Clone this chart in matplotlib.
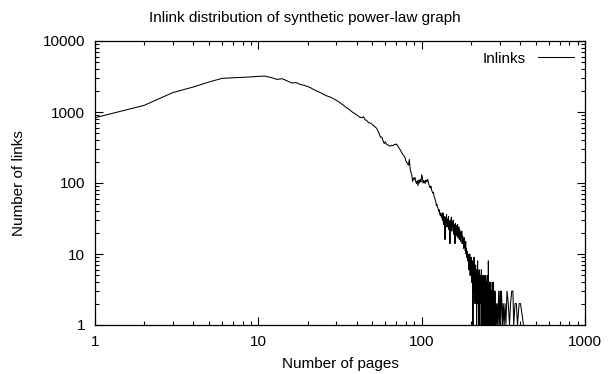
import matplotlib
matplotlib.use("Agg")
import matplotlib.pyplot as plt
from matplotlib.ticker import LogLocator, NullFormatter, FixedLocator

plt.rcParams['font.family'] = ['Liberation Sans', 'DejaVu Sans']

TITLE = "Inlink distribution of synthetic power-law graph"
X_LABEL = "Number of pages"
Y_LABEL = "Number of links"
SERIES_NAME = "Inlinks"

# head of the distribution, one value per page count 1..133
head_links = [
  830, 1240, 1880, 2250, 2650, 2980, 3030, 3080, 3120, 3180,
  3200, 3050, 2880, 2940, 2750, 2560, 2600, 2450, 2380, 2290,
  2180, 2050, 1950, 1870, 1780, 1700, 1650, 1600, 1530, 1470,
  1400, 1320, 1260, 1190, 1130, 1090, 1030, 980, 950, 910,
  870, 840, 830, 860, 780, 760, 720, 700, 690, 660,
  640, 610, 590, 540, 490, 440, 445, 395, 360, 380,
  350, 345, 335, 330, 340, 335, 338, 350, 345, 355,
  340, 320, 308, 290, 275, 260, 250, 240, 230, 205,
  195, 185, 178, 215, 160, 140, 130, 105, 118, 112,
  120, 105, 98, 108, 92, 110, 100, 112, 104, 130,
  120, 100, 108, 105, 98, 110, 104, 106, 112, 100,
  94, 88, 85, 90, 80, 76, 72, 74, 65, 62,
  58, 55, 48, 50, 46, 44, 40, 42, 37, 35,
  38, 33, 36,
]

# noisy tail 134..270
tail_links = [
  30, 38, 26, 34, 29, 16, 33, 28, 36, 24,
  31, 27, 34, 22, 29, 14, 30, 25, 33, 21,
  28, 24, 30, 19, 26, 22, 14, 27, 20, 25,
  18, 23, 26, 17, 21, 24, 16, 22, 19, 15,
  20, 17, 21, 14, 18, 16, 15, 12, 17, 13,
  14, 11, 15, 10, 12, 9, 11, 8, 10, 9,
  6, 9, 7, 10, 5, 8, 6, 9, 4, 7,
  5, 8, 1, 6, 3, 9, 4, 6, 2, 5,
  7, 3, 5, 1, 6, 4, 8, 2, 5, 1,
  4, 6, 3, 1, 5, 2, 4, 3, 6, 1,
  4, 2, 5, 3, 1, 4, 2, 5, 1, 3,
  4, 2, 1, 5, 3, 2, 4, 1, 3, 2,
  5, 1, 8, 2, 3, 1, 4, 2, 1, 3,
  2, 4, 1, 2, 3, 1, 2,
]

# sparse far tail (page counts with nonzero links)
far_pages = [272, 274, 275, 277, 279, 281, 283, 285, 288, 290,
             293, 296, 299, 302, 305, 307, 310, 313, 316, 320,
             324, 328, 333, 339, 345, 350, 356, 362, 366, 373,
             380, 386, 395, 403, 420]
far_links = [4, 1, 4, 2, 1, 3, 1, 2, 1, 2,
             1, 3, 1, 3, 1, 3, 2, 1, 2, 1,
             2, 1, 3, 2, 1, 2, 3, 3, 1, 2,
             2, 1, 2, 2, 1]

pages = list(range(1, 1 + len(head_links) + len(tail_links))) + far_pages
links = head_links + tail_links + far_links

fig = plt.figure(figsize=(6.09, 3.74), dpi=100)
ax = fig.add_axes([95 / 609, 1 - 325 / 374, 490 / 609, 284 / 374])

ax.plot(pages, links, color='black', lw=0.75, label=SERIES_NAME)

ax.set_xscale('log')
ax.set_yscale('log')
ax.set_xlim(1, 1000)
ax.set_ylim(1, 10000)

ax.xaxis.set_major_locator(FixedLocator([1, 10, 100, 1000]))
ax.yaxis.set_major_locator(FixedLocator([1, 10, 100, 1000, 10000]))
ax.set_xticklabels(['1', '10', '100', '1000'])
ax.set_yticklabels(['1', '10', '100', '1000', '10000'])
ax.xaxis.set_minor_locator(LogLocator(base=10, subs=range(2, 10)))
ax.yaxis.set_minor_locator(LogLocator(base=10, subs=range(2, 10)))
ax.xaxis.set_minor_formatter(NullFormatter())
ax.yaxis.set_minor_formatter(NullFormatter())

ax.tick_params(which='both', direction='in', top=True, right=True,
               labelsize=11, width=0.8, color='black')
ax.tick_params(which='major', length=6, pad=7)
ax.tick_params(which='minor', length=3)
for s in ax.spines.values():
  s.set_linewidth(0.9)

ax.set_xlabel(X_LABEL, fontsize=11, labelpad=6)
ax.set_ylabel(Y_LABEL, fontsize=11, labelpad=12)
fig.text(0.5, 1 - 18 / 374, TITLE, ha='center', va='center', fontsize=11)

ax.legend(loc='upper right', frameon=False, markerfirst=False,
          handlelength=2.4, fontsize=11, borderaxespad=0.3)

fig.savefig('out.png', dpi=100)
